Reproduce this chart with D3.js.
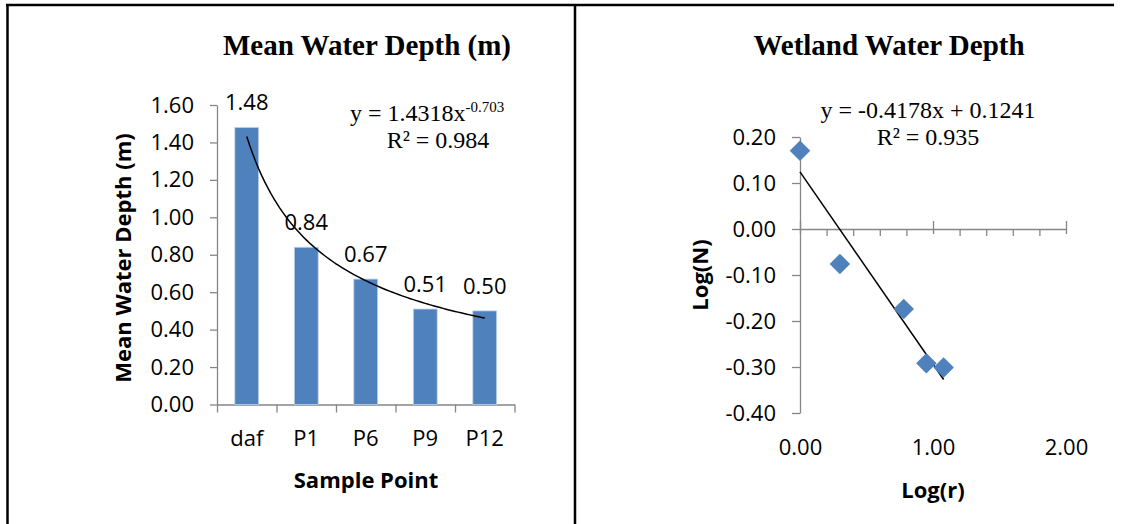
<!DOCTYPE html>
<html>
<head>
<meta charset="utf-8">
<script src="https://cdn.jsdelivr.net/npm/d3@7"></script>
<style>
  html, body { margin: 0; padding: 0; background: #fff; }
  svg { display: block; }
  .tick-label { font-family: "Open Sans", sans-serif; font-size: 22px; fill: #000; }
  .axis-title { font-family: "Open Sans", sans-serif; font-size: 22px; font-weight: bold; fill: #000; }
  .chart-title { font-family: "Liberation Serif", "Times New Roman", serif; font-size: 29px; font-weight: bold; fill: #000; }
  .fit-label { font-family: "Liberation Serif", "Times New Roman", serif; font-size: 24px; fill: #000; }
</style>
</head>
<body>
<svg id="fig" width="1122" height="524"></svg>
<script>
// ---- Left panel: mean water depth per sample point ----
const categories = ["daf", "P1", "P6", "P9", "P12"];
const meanDepth = [1.48, 0.84, 0.67, 0.51, 0.50];
const depthTicks = [0, 0.2, 0.4, 0.6, 0.8, 1.0, 1.2, 1.4, 1.6];
// power trend y = a * x^b fitted over category index 1..5
const powerCoef = 1.4318;
const powerExp = -0.703;
const powerR2 = 0.984;

// ---- Right panel: log-log relation ----
const logR = [0.00, 0.30, 0.78, 0.95, 1.08];
const logN = [0.17, -0.076, -0.174, -0.292, -0.301];
const logNTicks = [-0.4, -0.3, -0.2, -0.1, 0, 0.1, 0.2];
const logRTicks = [0, 1, 2];
const logRMinorTicks = [0.2, 0.4, 0.6, 0.8, 1.2, 1.4, 1.6, 1.8];
const linSlope = -0.4178;
const linIntercept = 0.1241;
const linR2 = 0.935;

const barColor = "#4F81BD";
const axisColor = "#868686";
// plain hyphen for negative numbers
const locale = d3.formatLocale({ decimal: ".", thousands: ",", grouping: [3], currency: ["$", ""], minus: "-" });
const fmt2 = locale.format(".2f");

const svg = d3.select("#fig");

// frame around both panels
const frame = svg.append("g").attr("stroke", "#000").attr("stroke-width", 2.5);
frame.append("line").attr("x1", 6).attr("x2", 1114).attr("y1", 5).attr("y2", 5);
frame.append("line").attr("x1", 7.5).attr("x2", 7.5).attr("y1", 4).attr("y2", 524);
frame.append("line").attr("x1", 575).attr("x2", 575).attr("y1", 4).attr("y2", 524);

function styleAxis(g) {
  g.selectAll(".domain").attr("stroke", axisColor).attr("stroke-width", 1.3);
  g.selectAll(".tick line").attr("stroke", axisColor).attr("stroke-width", 1.3);
  g.selectAll(".tick text").attr("class", "tick-label").attr("font-size", null).attr("font-family", null).attr("fill", null);
}

// ================= Left chart =================
{
  const x = d3.scaleBand(categories, [217, 514.5]).paddingInner(0.6).paddingOuter(0.3);
  const y = d3.scaleLinear([0, 1.6], [404.5, 105]);
  const g = svg.append("g");

  g.append("text").attr("class", "chart-title")
    .attr("x", 367).attr("y", 55).attr("text-anchor", "middle")
    .text("Mean Water Depth (m)");

  // y axis
  g.append("g").attr("transform", `translate(${x.range()[0]},0)`)
    .call(d3.axisLeft(y).tickValues(depthTicks).tickFormat(fmt2).tickSizeInner(7).tickSizeOuter(0).tickPadding(16))
    .call(styleAxis);

  // x axis: ticks at category boundaries, labels centred on categories
  const edge = d3.scaleLinear([0, categories.length], x.range());
  g.append("g").attr("transform", `translate(0,${y(0)})`)
    .call(d3.axisBottom(edge).tickValues(d3.range(categories.length + 1)).tickFormat("").tickSizeInner(8).tickSizeOuter(0))
    .call(styleAxis);
  g.append("g").attr("transform", `translate(0,${y(0)})`)
    .call(d3.axisBottom(x).tickSize(0).tickPadding(26))
    .call(a => a.select(".domain").remove())
    .call(styleAxis);

  // bars
  g.selectAll("rect.bar").data(categories).join("rect")
    .attr("class", "bar")
    .attr("x", d => x(d))
    .attr("width", x.bandwidth())
    .attr("y", (d, i) => y(meanDepth[i]))
    .attr("height", (d, i) => y(0) - y(meanDepth[i]))
    .attr("fill", barColor)
    .attr("stroke", "#BCD0E8").attr("stroke-width", 0.8);

  // value labels
  g.selectAll("text.val").data(categories).join("text")
    .attr("class", "tick-label val")
    .attr("x", d => x(d) + x.bandwidth() / 2)
    .attr("y", (d, i) => y(meanDepth[i]) - 17)
    .attr("text-anchor", "middle")
    .text((d, i) => fmt2(meanDepth[i]));

  // power trendline
  const px = d3.scaleLinear([1, categories.length], [x(categories[0]) + x.bandwidth() / 2, x(categories[categories.length - 1]) + x.bandwidth() / 2]);
  const curvePts = d3.range(1, categories.length + 0.001, 0.05).map(t => [px(t), y(powerCoef * Math.pow(t, powerExp))]);
  g.append("path").attr("d", d3.line()(curvePts))
    .attr("fill", "none").attr("stroke", "#000").attr("stroke-width", 1.5);

  // fit equation with superscript exponent
  const eq = g.append("text").attr("class", "fit-label").attr("x", 350).attr("y", 121);
  eq.append("tspan").text(`y = ${powerCoef}x`);
  eq.append("tspan").attr("dy", -9).attr("font-size", 15).text(String(powerExp));
  g.append("text").attr("class", "fit-label").attr("x", 438).attr("y", 148).attr("text-anchor", "middle").text(`R² = ${powerR2}`);

  // axis titles
  g.append("text").attr("class", "axis-title")
    .attr("transform", "translate(131,258) rotate(-90)").attr("text-anchor", "middle")
    .text("Mean Water Depth (m)");
  g.append("text").attr("class", "axis-title")
    .attr("x", 366).attr("y", 488).attr("text-anchor", "middle")
    .text("Sample Point");
}

// ================= Right chart =================
{
  const x = d3.scaleLinear([0, 2], [800, 1066]);
  const y = d3.scaleLinear([-0.4, 0.2], [413, 137]);
  const g = svg.append("g");

  g.append("text").attr("class", "chart-title")
    .attr("x", 889).attr("y", 55).attr("text-anchor", "middle")
    .text("Wetland Water Depth");

  // y axis
  g.append("g").attr("transform", `translate(${x(0)},0)`)
    .call(d3.axisLeft(y).tickValues(logNTicks).tickFormat(fmt2).tickSizeInner(8).tickSizeOuter(0).tickPadding(16))
    .call(styleAxis);

  // x axis through y = 0: major ticks cross, minor ticks below
  const xa = g.append("g").attr("transform", `translate(0,${y(0)})`);
  xa.call(d3.axisBottom(x).tickValues(logRTicks).tickFormat("").tickSizeInner(5).tickSizeOuter(0))
    .call(styleAxis);
  xa.selectAll(".tick line").attr("y1", -8);
  xa.append("g")
    .call(d3.axisBottom(x).tickValues(logRMinorTicks).tickFormat("").tickSizeInner(7).tickSizeOuter(0))
    .call(a => a.select(".domain").remove())
    .call(styleAxis);

  // x tick labels sit below the plot area
  g.append("g").attr("transform", `translate(0,${y(-0.4)})`)
    .call(d3.axisBottom(x).tickValues(logRTicks).tickFormat(fmt2).tickSize(0).tickPadding(26))
    .call(a => a.select(".domain").remove())
    .call(styleAxis);

  // linear trendline over the data range
  const x0 = d3.min(logR), x1 = d3.max(logR);
  g.append("line")
    .attr("x1", x(x0)).attr("y1", y(linSlope * x0 + linIntercept))
    .attr("x2", x(x1)).attr("y2", y(linSlope * x1 + linIntercept))
    .attr("stroke", "#000").attr("stroke-width", 1.5);

  // diamond markers
  const diamond = d3.symbol(d3.symbolSquare, 210);
  g.selectAll("path.pt").data(logR).join("path")
    .attr("class", "pt")
    .attr("d", diamond)
    .attr("transform", (d, i) => `translate(${x(d)},${y(logN[i])}) rotate(45)`)
    .attr("fill", barColor);

  g.append("text").attr("class", "fit-label").attr("x", 928).attr("y", 118).attr("text-anchor", "middle")
    .text(`y = ${linSlope}x + ${linIntercept}`);
  g.append("text").attr("class", "fit-label").attr("x", 928).attr("y", 145).attr("text-anchor", "middle")
    .text(`R² = ${linR2}`);

  g.append("text").attr("class", "axis-title")
    .attr("transform", "translate(708,275) rotate(-90)").attr("text-anchor", "middle")
    .text("Log(N)");
  g.append("text").attr("class", "axis-title")
    .attr("x", 933).attr("y", 498).attr("text-anchor", "middle")
    .text("Log(r)");
}
</script>
</body>
</html>
